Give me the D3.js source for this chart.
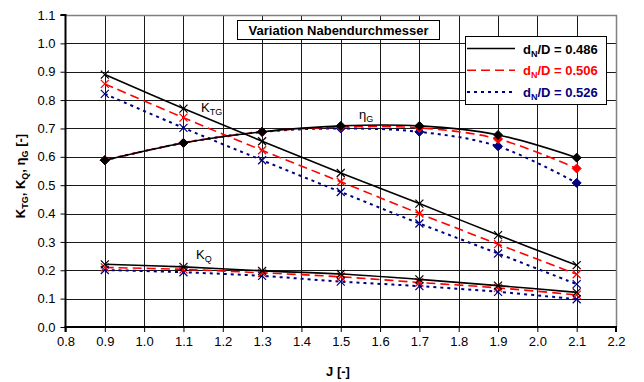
<!DOCTYPE html>
<html>
<head>
<meta charset="utf-8">
<script src="https://cdn.jsdelivr.net/npm/d3@7"></script>
<style>
  body { margin: 0; background: #fff; }
  svg { font-family: "Liberation Sans", Arial, sans-serif; }
</style>
</head>
<body>
<svg id="chart" width="644" height="382"></svg>
<script>
// advance coefficient J
var jVals = [0.9, 1.1, 1.3, 1.5, 1.7, 1.9, 2.1];

// d_N/D variants
var variants = ["0.486", "0.506", "0.526"];
var colors = ["#000000", "#ff0000", "#000080"];
var dashes = [null, "9,5", "3,4"];

// K_TG per variant
var ktg486 = [0.89, 0.77, 0.655, 0.543, 0.435, 0.324, 0.218];
var ktg506 = [0.857, 0.738, 0.623, 0.512, 0.400, 0.292, 0.186];
var ktg526 = [0.822, 0.702, 0.588, 0.476, 0.365, 0.259, 0.151];

// K_Q per variant
var kq486 = [0.221, 0.212, 0.198, 0.187, 0.168, 0.146, 0.122];
var kq506 = [0.210, 0.203, 0.191, 0.177, 0.157, 0.138, 0.113];
var kq526 = [0.201, 0.193, 0.180, 0.160, 0.144, 0.124, 0.098];

// eta_G per variant
var eta486 = [0.588, 0.649, 0.688, 0.709, 0.709, 0.677, 0.597];
var eta506 = [0.588, 0.649, 0.688, 0.705, 0.702, 0.663, 0.559];
var eta526 = [0.588, 0.649, 0.688, 0.700, 0.688, 0.637, 0.508];

var xTicks = d3.range(8, 23).map(function (d) { return d / 10; });
var yTicks = d3.range(0, 12).map(function (d) { return d / 10; });

var svg = d3.select("#chart");

var x = d3.scaleLinear().domain([0.8, 2.2]).range([65.5, 616]);
var y = d3.scaleLinear().domain([0, 1.1]).range([327, 15]);

// plot area + grid
var grid = svg.append("g");
grid.append("rect")
    .attr("x", x(0.8)).attr("y", y(1.1))
    .attr("width", x(2.2) - x(0.8)).attr("height", y(0) - y(1.1))
    .attr("fill", "#fff");

grid.selectAll("line.v").data(xTicks.slice(1, -1)).enter().append("line")
    .attr("x1", function (d) { return Math.round(x(d)) + 0.5; })
    .attr("x2", function (d) { return Math.round(x(d)) + 0.5; })
    .attr("y1", y(1.1)).attr("y2", y(0))
    .attr("stroke", "#1a1a1a").attr("stroke-width", 1);

grid.selectAll("line.h").data(yTicks.slice(1, -1)).enter().append("line")
    .attr("y1", function (d) { return Math.round(y(d)) + 0.5; })
    .attr("y2", function (d) { return Math.round(y(d)) + 0.5; })
    .attr("x1", x(0.8)).attr("x2", x(2.2))
    .attr("stroke", "#1a1a1a").attr("stroke-width", 1);

// top / right border
grid.append("path")
    .attr("d", "M" + x(0.8) + "," + (y(1.1) + 0.5) + "H" + (x(2.2) + 0.5) + "V" + y(0))
    .attr("fill", "none").attr("stroke", "#808080").attr("stroke-width", 1.5);

// axes
var xAxis = d3.axisBottom(x).tickValues(xTicks).tickSize(5).tickPadding(5)
    .tickFormat(d3.format(".1f"));
var yAxis = d3.axisLeft(y).tickValues(yTicks).tickSize(5).tickPadding(5)
    .tickFormat(d3.format(".1f"));

var gX = svg.append("g").attr("transform", "translate(0," + y(0) + ")").call(xAxis);
var gY = svg.append("g").attr("transform", "translate(" + x(0.8) + ",0)").call(yAxis);

[gX, gY].forEach(function (g) {
    g.select(".domain").attr("stroke", "#000").attr("stroke-width", 2);
    g.selectAll(".tick line").attr("stroke", "#000");
    g.selectAll(".tick text").attr("fill", "#000")
        .style("font-size", "13px").style("font-family", "Liberation Sans, Arial, sans-serif");
});
gX.select(".domain").attr("d", "M" + x(0.8) + ",5V0H" + x(2.2) + "V5");
gY.select(".domain").attr("d", "M-5," + y(1.1) + "H0V" + y(0));

// axis titles
svg.append("text")
    .attr("x", 338).attr("y", 376)
    .attr("text-anchor", "middle")
    .style("font-size", "13px").style("font-weight", "bold")
    .text("J [-]");

var yt = svg.append("text")
    .attr("transform", "translate(25,176) rotate(-90)")
    .attr("text-anchor", "middle")
    .style("font-size", "13px").style("font-weight", "bold");
yt.append("tspan").text("K");
yt.append("tspan").attr("dy", 3).style("font-size", "9px").text("TG");
yt.append("tspan").attr("dy", -3).text(", K");
yt.append("tspan").attr("dy", 3).style("font-size", "9px").text("Q");
yt.append("tspan").attr("dy", -3).text(", η");
yt.append("tspan").attr("dy", 3).style("font-size", "9px").text("G");
yt.append("tspan").attr("dy", -3).text(" [-]");

// series
var ktg = [ktg486, ktg506, ktg526];
var kq = [kq486, kq506, kq526];
var eta = [eta486, eta506, eta526];

var line = d3.line()
    .x(function (d) { return x(d[0]); })
    .y(function (d) { return y(d[1]); })
    .curve(d3.curveCatmullRom.alpha(0.5));

function pairs(vals) {
    return vals.map(function (v, i) { return [jVals[i], v]; });
}

var series = svg.append("g");

function drawSeries(vals, idx, marker) {
    var pts = pairs(vals);
    series.append("path")
        .attr("d", line(pts))
        .attr("fill", "none")
        .attr("stroke", colors[idx])
        .attr("stroke-width", idx === 2 ? 2 : 1.6)
        .attr("stroke-dasharray", dashes[idx]);

    var m = series.selectAll(null).data(pts).enter().append("g")
        .attr("transform", function (d) { return "translate(" + x(d[0]) + "," + y(d[1]) + ")"; });
    if (marker === "cross") {
        m.append("path")
            .attr("d", "M-4,-4L4,4M-4,4L4,-4")
            .attr("stroke", colors[idx]).attr("stroke-width", 1.2).attr("fill", "none");
    } else {
        m.append("path")
            .attr("d", "M0,-4.5L4.5,0L0,4.5L-4.5,0Z")
            .attr("fill", colors[idx]).attr("stroke", colors[idx]);
    }
}

// draw in reverse so black sits on top
[2, 1, 0].forEach(function (i) {
    drawSeries(ktg[i], i, "cross");
    drawSeries(kq[i], i, "cross");
    drawSeries(eta[i], i, "diamond");
});

// curve labels
function subLabel(px, py, main, sub) {
    var t = svg.append("text").attr("x", px).attr("y", py).style("font-size", "13px");
    t.append("tspan").text(main);
    t.append("tspan").attr("dy", 3).style("font-size", "9px").text(sub);
}
subLabel(201, 112, "K", "TG");
subLabel(359, 119, "η", "G");
subLabel(196, 259, "K", "Q");

// title box
var tb = svg.append("g");
tb.append("rect")
    .attr("x", 237.5).attr("y", 20.5).attr("width", 202).attr("height", 19)
    .attr("fill", "#fff").attr("stroke", "#000");
tb.append("text")
    .attr("x", 338.5).attr("y", 35)
    .attr("text-anchor", "middle")
    .style("font-size", "13px").style("font-weight", "bold")
    .text("Variation Nabendurchmesser");

// legend
var lg = svg.append("g");
lg.append("rect")
    .attr("x", 465.5).attr("y", 36.5).attr("width", 141).attr("height", 68)
    .attr("fill", "#fff").attr("stroke", "#000");

variants.forEach(function (v, i) {
    var ly = 48.5 + i * 21.7;
    lg.append("line")
        .attr("x1", 467).attr("x2", 515)
        .attr("y1", ly).attr("y2", ly)
        .attr("stroke", colors[i])
        .attr("stroke-width", i === 2 ? 2 : 1.6)
        .attr("stroke-dasharray", dashes[i]);
    var t = lg.append("text")
        .attr("x", 523).attr("y", ly + 5)
        .attr("fill", colors[i])
        .style("font-size", "13px").style("font-weight", "bold");
    t.append("tspan").text("d");
    t.append("tspan").attr("dy", 3).style("font-size", "9px").text("N");
    t.append("tspan").attr("dy", -3).text("/D = " + v);
});
</script>
</body>
</html>
